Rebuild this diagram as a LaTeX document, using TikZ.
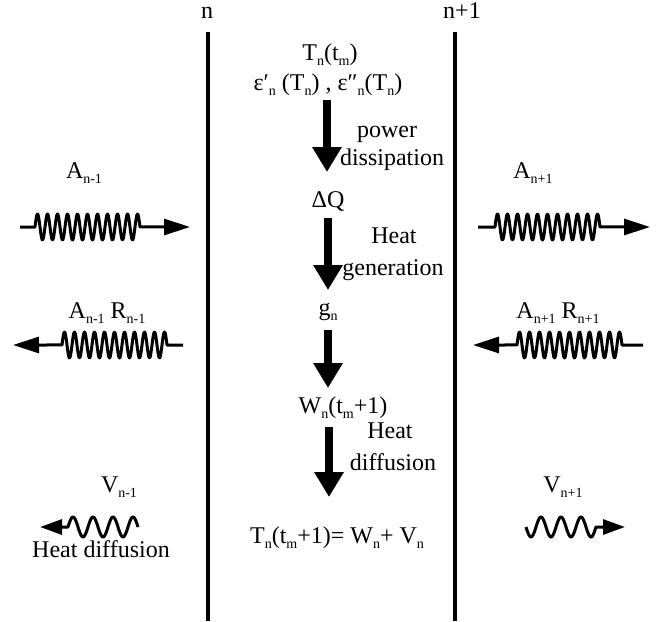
\documentclass[tikz,border=0pt]{standalone}
\usepackage{fontspec}
\setmainfont{Liberation Serif}
\usetikzlibrary{arrows.meta,calc}
\newcommand\lo[1]{\raisebox{-0.22em}{\fontsize{14}{14}\selectfont #1}}
\begin{document}
\begin{tikzpicture}[x=1pt,y=-1pt,font=\fontsize{24}{28}\selectfont,
  txt/.style={inner sep=0pt,anchor=base},
  bigarrow/.style={line width=7.5pt,-{Triangle[length=25pt,width=28pt]}},
  wavearrow/.style={line width=3pt,line join=round,-{Triangle[length=26pt,width=16pt]}},
  smallwave/.style={line width=3pt,line join=round,-{Triangle[length=22pt,width=15pt]}},
  divider/.style={line width=4pt}]
\useasboundingbox (0,0) rectangle (660,621);
% dividers
\draw[divider] (208,32) -- (208,621);
\draw[divider] (455,32) -- (455,621);
\node[txt] (nL) at (207,18) {n};
\node[txt] (nR) at (462,18) {n+1};
% central column
\node[txt] (T0) at (330,60) {T\lo{n}(t\lo{m})};
\node[txt] (eps) at (328,90) {ε′\lo{n} (T\lo{n}) , ε″\lo{n}(T\lo{n})};
\node[txt] (dQ) at (328,207) {ΔQ};
\node[txt] (gn) at (328,315) {g\lo{n}};
\node[txt] (Wn) at (343,413) {W\lo{n}(t\lo{m}+1)};
\node[txt] (Tn1) at (337,543) {T\lo{n}(t\lo{m}+1)= W\lo{n}+ V\lo{n}};
\node[txt] (l1a) at (387,137) {power};
\node[txt] (l1b) at (392,165) {dissipation};
\node[txt] (l2a) at (394,243) {Heat};
\node[txt] (l2b) at (393,275) {generation};
\node[txt] (l4a) at (390,438) {Heat};
\node[txt] (l4b) at (393,470) {diffusion};
\draw[bigarrow] ($(eps.base)+(-1,10)$) -- ($(dQ.base)+(-1,-35)$);
\draw[bigarrow] ($(dQ.base)+(0,11)$) -- ($(gn.base)+(0,-25)$);
\draw[bigarrow] ($(gn.base)+(0,15)$) -- ($(gn.base |- Wn.base)+(0,-25)$);
\draw[bigarrow] ($(gn.base |- Wn.base)+(1,14)$) -- ($(gn.base |- Tn1.base)+(1,-46)$);
% left side
\node[txt] (Am) at (84,178) {A\lo{n-1}};
\node[txt] (ARm) at (107,318) {A\lo{n-1} R\lo{n-1}};
\node[txt] (Vm) at (119,492) {V\lo{n-1}};
\node[txt] (HD) at (101,557) {Heat diffusion};
\draw[wavearrow] (20,227) -- (35,227) -- plot[domain=35:140,samples=160] (\x,{227-13*sin(36*(\x-35))}) -- (190,227);
\draw[wavearrow] (183,345) -- (167,345) -- plot[domain=167:62,samples=160] (\x,{345-13*sin(36*(\x-62))}) -- (13,345);
\draw[smallwave] plot[domain=138:68,samples=100] (\x,{527-10*sin(18*(138-\x))}) -- (40,527);
% right side
\node[txt] (Ap) at (533,178) {A\lo{n+1}};
\node[txt] (ARp) at (558,318) {A\lo{n+1} R\lo{n+1}};
\node[txt] (Vp) at (563,492) {V\lo{n+1}};
\draw[wavearrow] (478,227) -- (495,227) -- plot[domain=495:600,samples=160] (\x,{227-13*sin(36*(\x-495))}) -- (650,227);
\draw[wavearrow] (643,345) -- (622,345) -- plot[domain=622:517,samples=160] (\x,{345-13*sin(36*(\x-517))}) -- (473,345);
\draw[smallwave] plot[domain=526:596,samples=100] (\x,{527+10*sin(18*(\x-526))}) -- (625,527);
\end{tikzpicture}
\end{document}
